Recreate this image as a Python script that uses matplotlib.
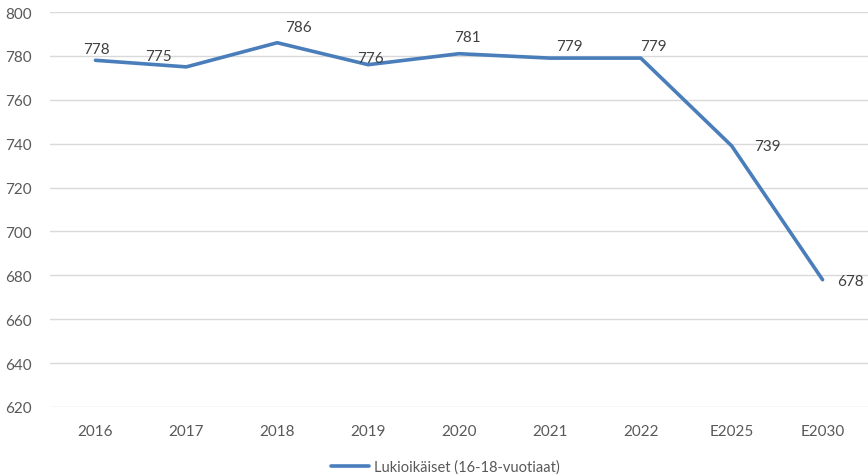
import matplotlib.pyplot as plt

plt.rcParams['font.family'] = ['Lato', 'DejaVu Sans']

# Lukioikäisten määrä vuosittain ja ennusteet
years = ['2016', '2017', '2018', '2019', '2020', '2021', '2022', 'E2025', 'E2030']
values = [778, 775, 786, 776, 781, 779, 779, 739, 678]
series_name = 'Lukioikäiset (16-18-vuotiaat)'

# label offsets in points (dx, dy)
offsets = [(1, 8), (-20, 8), (15, 11), (2, 5), (6, 12), (14, 9), (9, 9), (26, 0), (20, -1)]

fig = plt.figure(figsize=(8.68, 4.77), dpi=100)
ax = fig.add_axes([0.0576, 0.1447, 0.9424, 0.828])

x = range(len(years))
line, = ax.plot(x, values, color='#4a7ebb', linewidth=2.6, solid_capstyle='round',
                solid_joinstyle='round', label=series_name)

for i, v in enumerate(values):
    ax.annotate(str(v), (i, v), xytext=offsets[i], textcoords='offset points',
                ha='center', va='center', fontsize=11, color='#404040')

ax.set_xlim(-0.5, len(years) - 0.5)
ax.set_ylim(620, 800)
ax.set_yticks(range(620, 801, 20))
ax.set_xticks(list(x))
ax.set_xticklabels(years)
ax.yaxis.grid(True, color='#d9d9d9', linewidth=1)
ax.set_axisbelow(True)
for s in ax.spines.values():
    s.set_visible(False)
ax.tick_params(axis='both', length=0, labelsize=11, labelcolor='#595959')
ax.tick_params(axis='x', pad=12)
ax.tick_params(axis='y', pad=13)

fig.legend(handles=[line], loc='center', bbox_to_anchor=(0.513, 0.02), frameon=False,
           fontsize=10.5, labelcolor='#595959', handlelength=2.6, handletextpad=0.3)

fig.savefig('out.png', dpi=100)
